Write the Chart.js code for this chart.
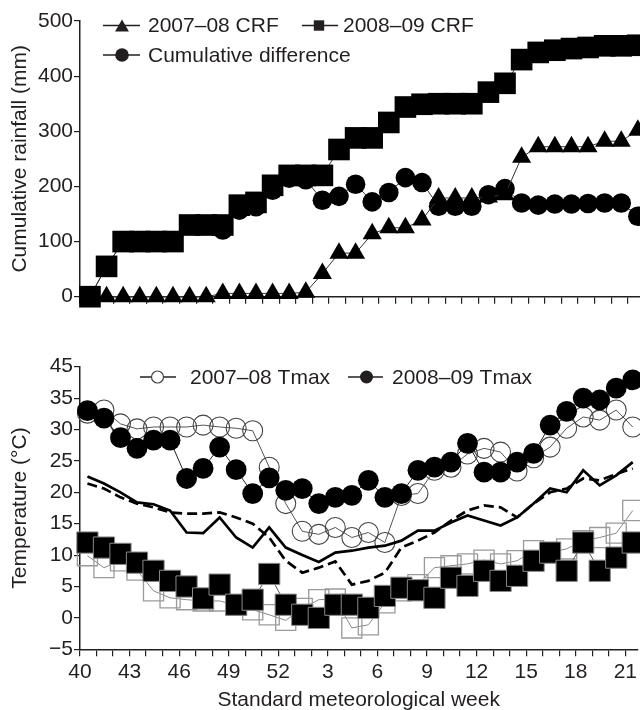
<!DOCTYPE html>
<html>
<head>
<meta charset="utf-8">
<script src="https://cdn.jsdelivr.net/npm/chart.js@4.4.1/dist/chart.umd.min.js"></script>
<style>
html,body{margin:0;padding:0;background:#fff;}
#wrap{position:relative;width:640px;height:710px;overflow:hidden;background:#fff;}
canvas{display:block;}
</style>
</head>
<body>
<div id="wrap">
<canvas id="rain" width="640" height="320" style="width:640px;height:320px"></canvas>
<canvas id="temp" width="640" height="390" style="width:640px;height:390px"></canvas>
</div>
<script>
// ---------- DATA ----------
const weeks = [40,41,42,43,44,45,46,47,48,49,50,51,52,1,2,3,4,5,6,7,8,9,10,11,12,13,14,15,16,17,18,19,20,21];

// Cumulative rainfall (mm)
const crf0708 = [0,0,0,0,0,0,0,0,6,6,6,6,6,8,42,79,79,114,125,125,139,179,179,179,181,185,253,272,272,272,272,282,282,302];
const crf0809 = [0,55,100,100,100,100,130,130,130,166,171,202,220,220,220,267,288,288,316,344,349,350,350,350,371,387,430,443,447,450,452,455,455,456];
const cumDiff = [0,55,100,100,100,100,130,130,121,157,163,193,215,212,175,182,204,172,189,216,207,164,164,164,185,196,170,166,168,168,169,170,170,146];

// Temperature (°C)
const tmax0708 = [32.6,33.1,30.9,30.1,30.4,30.4,30.4,30.7,30.4,30.2,29.8,24.0,18.2,13.8,13.3,14.4,12.8,13.6,12.0,19.5,19.8,23.5,24.0,26.1,27.0,26.4,23.4,25.5,27.2,30.2,32.0,31.5,33.1,30.4];
const tmax0809 = [33.0,31.8,28.7,27.0,28.3,28.3,22.2,23.8,27.2,23.6,19.8,22.3,20.3,20.6,18.2,19.2,19.5,21.9,19.2,19.8,23.5,24.0,24.8,27.8,23.2,23.2,24.8,26.2,30.7,32.9,35.0,34.7,36.6,37.9];
const tmean0809 = [22.5,21.4,20.0,18.4,18.1,17.1,13.6,13.5,16.0,12.8,11.2,14.4,11.2,10.0,8.9,10.4,10.7,11.2,11.5,12.3,13.9,13.9,15.2,16.3,15.5,14.7,16.0,18.2,20.6,20.0,23.5,21.1,22.7,24.8];
const tmean0708 = [21.4,20.6,19.2,18.2,17.6,16.8,16.6,16.6,16.8,16.0,15.0,12.8,9.1,7.2,8.0,9.0,5.3,5.9,7.2,11.2,12.3,13.6,15.5,17.1,17.9,17.6,16.0,18.2,20.0,20.6,22.2,21.9,22.9,23.8];
const tmin0809 = [12.0,11.2,10.2,8.8,7.5,5.9,5.0,3.1,5.3,2.1,2.9,7.0,2.1,0.5,0.0,2.1,2.1,1.6,3.5,4.8,4.4,3.2,6.4,5.1,7.5,5.9,6.7,9.1,10.4,7.5,12.0,7.5,9.6,12.0];
const tmin0708 = [9.9,8.0,9.1,7.6,4.3,3.2,2.9,2.7,2.7,2.0,1.3,0.5,-0.4,1.5,2.9,3.0,-1.6,-1.1,2.4,4.3,5.3,8.0,8.3,8.6,9.2,8.6,9.1,10.7,10.4,11.0,12.3,12.8,13.5,17.1];

// Tick labels
const rainTicks = [0,50,100,150,200,250,300,350,400,450,500];
const tempTickValues = [-5,0,5,10,15,20,25,30,35,40];
const tempTickLabels = ['\u22125','0','5','10','15','20','25','30','35','45'];

// ---------- STYLE / HELPERS ----------
const FONT = '"Liberation Sans", Arial, Helvetica, sans-serif';
const INK = '#231f20';
Chart.defaults.font.family = FONT;
Chart.defaults.font.size = 21;
Chart.defaults.color = INK;

const OFF_TOP = 0.6, OFF_BOT = 0.45, XMAX = 33.73;
const pts = (arr, off) => arr.map((v, i) => ({x: i + off, y: v}));

function drawMarker(ctx, style, x, y, r, fill, stroke, lw) {
  ctx.beginPath();
  if (style === 'triangle') {
    for (let k = 0; k < 3; k++) {
      const a = k * 2 * Math.PI / 3;
      const px = x + Math.sin(a) * r, py = y - Math.cos(a) * r;
      if (k) ctx.lineTo(px, py); else ctx.moveTo(px, py);
    }
    ctx.closePath();
  } else if (style === 'rect') {
    ctx.rect(x - r, y - r, 2 * r, 2 * r);
  } else {
    ctx.arc(x, y, r, 0, Math.PI * 2);
  }
  if (fill) { ctx.fillStyle = fill; ctx.fill(); }
  if (stroke) { ctx.strokeStyle = stroke; ctx.lineWidth = lw || 1; ctx.stroke(); }
}

function insetLegend(items) {
  return {
    id: 'insetLegend',
    afterDraw(chart) {
      const ctx = chart.ctx;
      ctx.save();
      ctx.font = '21px ' + FONT;
      ctx.textBaseline = 'middle';
      ctx.textAlign = 'left';
      items.forEach(it => {
        const ds = chart.data.datasets[it.index];
        ctx.strokeStyle = INK; ctx.lineWidth = 1.5;
        ctx.beginPath(); ctx.moveTo(it.x0, it.y); ctx.lineTo(it.x1, it.y); ctx.stroke();
        drawMarker(ctx, it.style, it.mx, it.my, it.r, it.fill, it.stroke, it.lw);
        ctx.fillStyle = INK;
        ctx.fillText(ds.label, it.tx, it.y + 1);
      });
      ctx.restore();
    }
  };
}

const axisBorder = {display: true, color: INK, width: 1.5};
const tickGrid = (len) => ({drawOnChartArea: false, drawTicks: true, tickLength: len, color: INK, lineWidth: 1.2});

// ---------- TOP: CUMULATIVE RAINFALL ----------
new Chart(document.getElementById('rain'), {
  type: 'line',
  data: {
    datasets: [
      {label: '2008\u201309 CRF', data: pts(crf0809, OFF_TOP), borderColor: '#333', borderWidth: 1,
       pointStyle: 'rect', pointRadius: 15.3, pointBackgroundColor: '#000', pointBorderWidth: 0, clip: false},
      {label: '2007\u201308 CRF', data: pts(crf0708, OFF_TOP), borderColor: '#333', borderWidth: 1,
       pointStyle: 'triangle', pointRadius: 11, pointBackgroundColor: '#000', pointBorderWidth: 0, clip: false},
      {label: 'Cumulative difference', data: pts(cumDiff, OFF_TOP), borderColor: '#333', borderWidth: 1,
       pointStyle: 'circle', pointRadius: 9.8, pointBackgroundColor: '#000', pointBorderWidth: 0, clip: false}
    ]
  },
  options: {
    responsive: false, animation: false, devicePixelRatio: 1,
    layout: {autoPadding: false, padding: {top: 21, right: 0, bottom: 0, left: 0}},
    plugins: {legend: {display: false}, tooltip: {enabled: false}},
    scales: {
      x: {type: 'linear', min: 0, max: XMAX,
          afterFit: s => { s.height = 23.3; },
          ticks: {display: false, stepSize: 1, autoSkip: false, includeBounds: false},
          grid: tickGrid(7), border: axisBorder},
      y: {type: 'linear', min: 0, max: 500,
          afterFit: s => { s.width = 80; },
          afterBuildTicks: s => { s.ticks = rainTicks.map(v => ({value: v})); },
          ticks: {padding: 1, color: INK, callback: v => String(v)},
          grid: tickGrid(6), border: axisBorder,
          title: {display: true, text: 'Cumulative rainfall (mm)', color: INK,
                  font: {size: 21, lineHeight: 1.2}, padding: {top: 8, bottom: 0}}}
    }
  },
  plugins: [insetLegend([
    {index: 1, x0: 103, x1: 140, y: 25.5, style: 'triangle', mx: 122, my: 27.5, r: 8, fill: INK, tx: 148},
    {index: 0, x0: 302, x1: 338, y: 25.5, style: 'rect', mx: 319, my: 25.5, r: 5.2, fill: INK, tx: 343},
    {index: 2, x0: 103, x1: 140, y: 55, style: 'circle', mx: 122, my: 55, r: 6.8, fill: INK, tx: 148}
  ])]
});

// ---------- BOTTOM: TEMPERATURE ----------
new Chart(document.getElementById('temp'), {
  type: 'line',
  data: {
    datasets: [
      {label: '2008\u201309 Tmax', data: pts(tmax0809, OFF_BOT), borderColor: '#222', borderWidth: 1,
       pointStyle: 'circle', pointRadius: 10.4, pointBackgroundColor: '#000', pointBorderColor: '#000', pointBorderWidth: 0, clip: false},
      {label: '2008\u201309 Tmin', data: pts(tmin0809, OFF_BOT), borderColor: '#555', borderWidth: 1,
       pointStyle: 'rect', pointRadius: 15, pointBackgroundColor: '#000', pointBorderColor: '#888', pointBorderWidth: 1, clip: false},
      {label: '2008\u201309 Tmean', data: pts(tmean0809, OFF_BOT), borderColor: '#000', borderWidth: 2.7,
       pointRadius: 0, clip: false},
      {label: '2007\u201308 Tmean', data: pts(tmean0708, OFF_BOT), borderColor: '#000', borderWidth: 2.7,
       borderDash: [10, 5], pointRadius: 0, clip: false},
      {label: '2007\u201308 Tmax', data: pts(tmax0708, OFF_BOT), borderColor: '#555', borderWidth: 1,
       pointStyle: 'circle', pointRadius: 10, pointBackgroundColor: 'rgba(0,0,0,0)', pointBorderColor: '#444', pointBorderWidth: 1.1, clip: false},
      {label: '2007\u201308 Tmin', data: pts(tmin0708, OFF_BOT), borderColor: '#888', borderWidth: 1,
       pointStyle: 'rect', pointRadius: 14.2, pointBackgroundColor: 'rgba(0,0,0,0)', pointBorderColor: '#9a9a9a', pointBorderWidth: 1.3, clip: false}
    ]
  },
  options: {
    responsive: false, animation: false, devicePixelRatio: 1,
    layout: {autoPadding: false, padding: {top: 46.7, right: 0, bottom: 0, left: 0}},
    plugins: {legend: {display: false}, tooltip: {enabled: false}},
    scales: {
      x: {type: 'linear', min: 0, max: XMAX,
          afterFit: s => { s.height = 60.7; },
          ticks: {stepSize: 1, autoSkip: false, includeBounds: false, maxRotation: 0, padding: 3, color: INK,
                  callback: v => (Number.isInteger(v) && v % 3 === 0 && v < weeks.length) ? String(weeks[v]) : ''},
          grid: tickGrid(7), border: axisBorder,
          title: {display: true, text: 'Standard meteorological week', color: INK,
                  font: {size: 21, lineHeight: 0.95}, padding: {top: 0, bottom: 0}}},
      y: {type: 'linear', min: -5, max: 40,
          afterFit: s => { s.width = 80; },
          afterBuildTicks: s => { s.ticks = tempTickValues.map(v => ({value: v})); },
          ticks: {padding: 1, color: INK,
                  callback: v => { const k = tempTickValues.indexOf(v); return k >= 0 ? tempTickLabels[k] : ''; }},
          grid: tickGrid(6), border: axisBorder,
          title: {display: true, text: 'Temperature (\u00b0C)', color: INK,
                  font: {size: 21, lineHeight: 1.2}, padding: {top: 8, bottom: 0}}}
    }
  },
  plugins: [insetLegend([
    {index: 4, x0: 140, x1: 176, y: 57, style: 'circle', mx: 157.5, my: 57, r: 6, fill: '#fff', stroke: '#444', lw: 1.2, tx: 190},
    {index: 0, x0: 348, x1: 383, y: 57, style: 'circle', mx: 366.5, my: 57, r: 6.5, fill: INK, tx: 392}
  ])]
});
</script>
</body>
</html>
